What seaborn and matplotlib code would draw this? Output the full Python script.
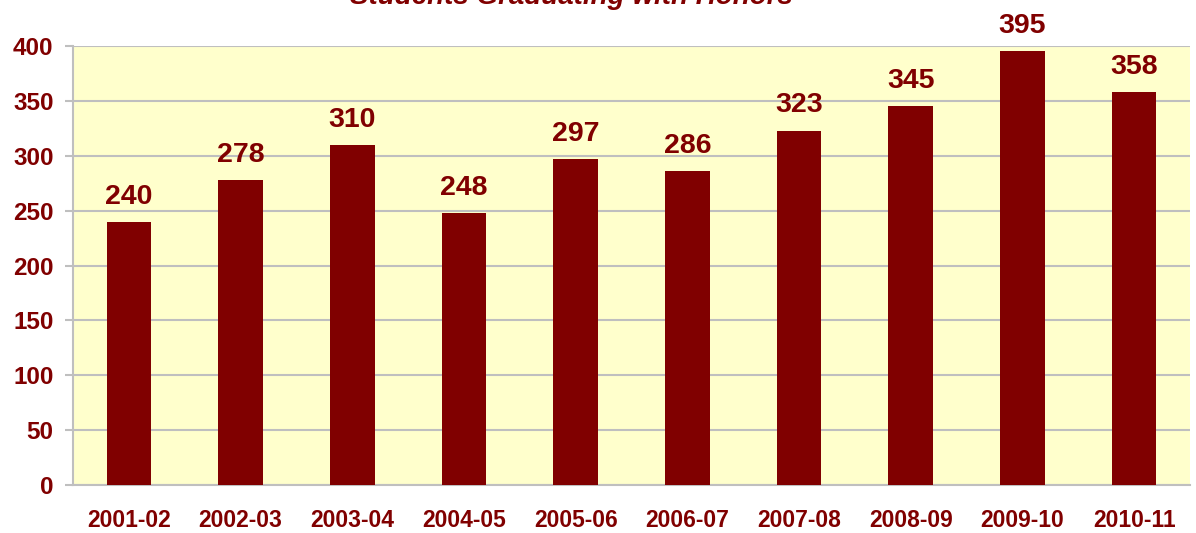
import numpy as np
import pandas as pd
import matplotlib
matplotlib.use("Agg")
import matplotlib.pyplot as plt
import seaborn as sns

# datos del grafico
anios = ["2001-02", "2002-03", "2003-04", "2004-05", "2005-06",
         "2006-07", "2007-08", "2008-09", "2009-10", "2010-11"]
graduados = [240, 278, 310, 248, 297, 286, 323, 345, 395, 358]

ROJO = "#800000"
AMARILLO = "#FFFFCC"
GRIS = "#BFBFBF"

df = pd.DataFrame({"anio": anios, "graduados": graduados})

sns.set_theme(style="white")
plt.rcParams["font.family"] = ["Liberation Sans", "DejaVu Sans"]

fig = plt.figure(figsize=(11.96, 5.33), dpi=100)
ax = fig.add_axes([73 / 1196, 1 - 485 / 533, (1190 - 73) / 1196, 439 / 533])
ax.set_facecolor(AMARILLO)

sns.barplot(data=df, x="anio", y="graduados", color=ROJO, width=0.4,
            saturation=1, linewidth=0, edgecolor=ROJO, ax=ax, zorder=3)

# etiquetas de valor sobre cada barra
for i, v in enumerate(graduados):
    ax.text(i, v + 11, str(v), ha="center", va="bottom", fontsize=20.5,
            fontweight="bold", color=ROJO)

ax.set_ylim(0, 400)
ax.set_xlim(-0.5, len(anios) - 0.5)
ax.set_yticks(range(0, 401, 50))
ax.grid(axis="y", color=GRIS, linewidth=1.5, zorder=0)
ax.set_axisbelow(True)

ax.set_xticks(np.arange(-0.5, len(anios), 1), minor=True)
ax.tick_params(axis="x", which="major", length=0, pad=17)
ax.tick_params(axis="x", which="minor", length=6, width=1.5, color=GRIS, direction="out")
ax.tick_params(axis="y", length=6, width=1.5, color=GRIS, direction="out", pad=8, left=True)
for lab in ax.get_xticklabels():
    lab.set_fontsize(16.5)
for lab in ax.get_yticklabels():
    lab.set_fontsize(17.5)
for lab in ax.get_xticklabels() + ax.get_yticklabels():
    lab.set_fontweight("bold")
    lab.set_color(ROJO)

ax.set_xlabel("")
ax.set_ylabel("")
for lado in ["top", "right"]:
    ax.spines[lado].set_visible(False)
for lado in ["left", "bottom"]:
    ax.spines[lado].set_color(GRIS)
    ax.spines[lado].set_linewidth(1.5)

fig.text(0.478, 1 - 4 / 533, "Students Graduating with Honors", ha="center",
         va="baseline", fontsize=20, fontweight="bold", fontstyle="italic", color=ROJO)

fig.savefig("out.png", dpi=100)
